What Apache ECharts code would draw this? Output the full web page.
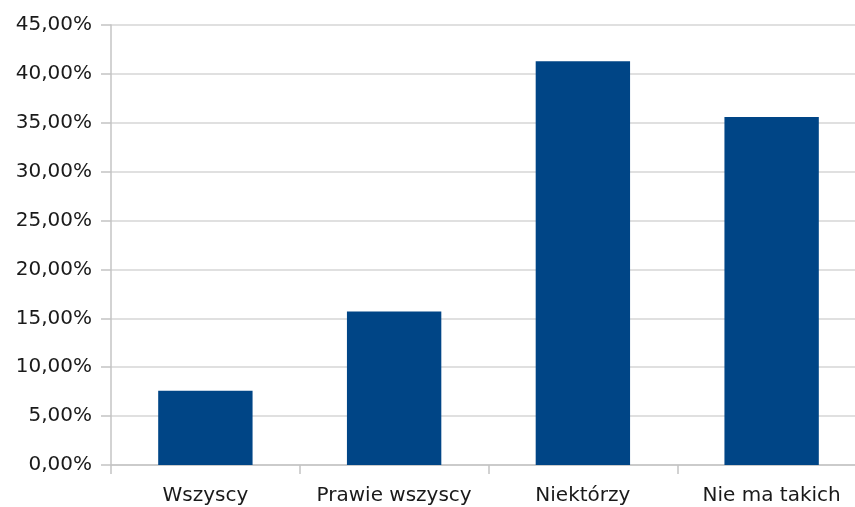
<!DOCTYPE html>
<html>
<head>
<meta charset="utf-8">
<script src="https://cdn.jsdelivr.net/npm/echarts@6/dist/echarts.min.js"></script>
<style>
  html, body { margin: 0; padding: 0; background: #ffffff; overflow: hidden; width: 855px; height: 507px; }
  /* the plot runs slightly past the right edge of the visible page */
  #chart { width: 870px; height: 507px; }
</style>
</head>
<body>
<div id="chart"></div>
<script>
// Answer categories and their shares (percent)
const categories = ['Wszyscy', 'Prawie wszyscy', 'Niektórzy', 'Nie ma takich'];
const shares = [7.6, 15.7, 41.3, 35.6];

// Value axis range
const yMin = 0;
const yMax = 45;
const yStep = 5;

const formatPct = v => v.toFixed(2).replace('.', ',') + '%';

const labelFont = 'DejaVu Sans, Verdana, sans-serif';

const chart = echarts.init(document.getElementById('chart'), null, { renderer: 'canvas' });
chart.setOption({
  animation: false,
  backgroundColor: '#ffffff',
  grid: { left: 111, right: 4, top: 25, bottom: 42, containLabel: false },
  xAxis: {
    type: 'category',
    data: categories,
    axisLine: { show: true, lineStyle: { color: '#c4c4c4', width: 1.5 } },
    axisTick: { show: true, length: 9, lineStyle: { color: '#c4c4c4', width: 1.5 } },
    axisLabel: {
      interval: 0,
      margin: 21,
      fontFamily: labelFont,
      fontSize: 20,
      color: '#1a1a1a'
    },
    splitLine: { show: false }
  },
  yAxis: {
    type: 'value',
    min: yMin,
    max: yMax,
    interval: yStep,
    axisLine: { show: true, lineStyle: { color: '#c4c4c4', width: 1.5 } },
    axisTick: { show: true, length: 10, lineStyle: { color: '#c4c4c4', width: 1.5 } },
    axisLabel: {
      margin: 19,
      fontFamily: labelFont,
      fontSize: 20,
      color: '#1a1a1a',
      formatter: formatPct
    },
    splitLine: { show: true, lineStyle: { color: '#d6d6d6', width: 1.5 } }
  },
  series: [{
    type: 'bar',
    data: shares,
    barWidth: '50%',
    itemStyle: { color: '#004586' }
  }]
});
</script>
</body>
</html>
